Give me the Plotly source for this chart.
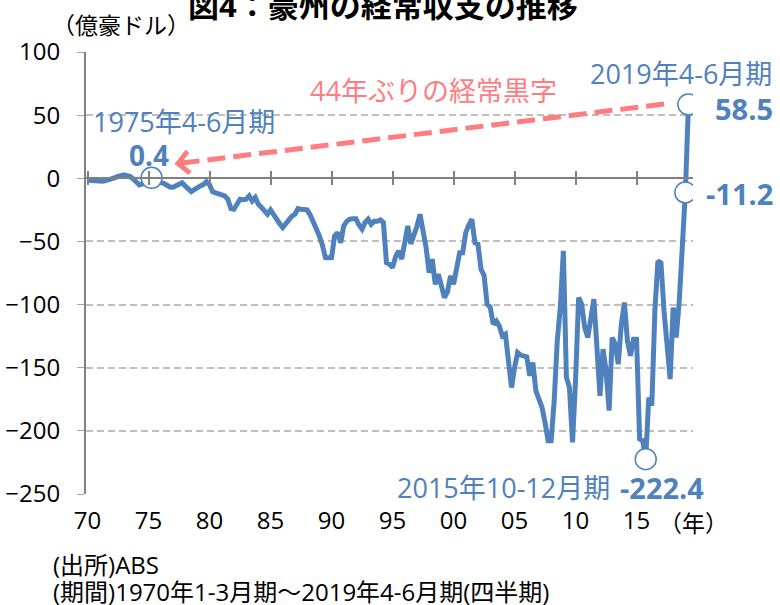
import plotly.graph_objects as go

# 豪州の経常収支（億豪ドル）、1970年1-3月期～2019年4-6月期、四半期
cur_acct = [
    -1.6, -1.8, -2.0, -2.5,        # 1970
    -2.7, -2.3, -1.8, -1.3,        # 1971
    -0.5, 0.5, 1.5, 2.6,           # 1972
    2.8, 2.0, 1.3, -0.5,           # 1973
    -3.0, -5.3, -4.5, -3.0,        # 1974
    -1.5, 0.4, -1.0, -2.5,         # 1975
    -3.5, -4.0, -5.5, -6.9,        # 1976
    -7.0, -6.0, -5.3, -3.5,        # 1977
    -6.0, -8.5, -10.6, -9.0,       # 1978
    -6.9, -6.0, -5.0, -2.7,        # 1979
    -5.0, -10.6, -11.5, -12.0,     # 1980
    -12.7, -14.0, -16.6, -24.0,    # 1981
    -24.5, -20.0, -16.6, -17.0,    # 1982
    -16.6, -14.0, -18.0, -15.3,    # 1983
    -20.6, -23.0, -26.0, -28.5,    # 1984
    -25.0, -29.0, -33.8, -36.0,    # 1985
    -39.0, -36.0, -32.4, -30.0,    # 1986
    -28.5, -24.0, -24.5, -25.0,    # 1987
    -25.0, -29.0, -33.8, -40.0,    # 1988
    -45.6, -53.0, -62.8, -63.0,    # 1989
    -62.8, -45.6, -43.0, -51.0,    # 1990
    -37.7, -34.0, -32.4, -32.0,    # 1991
    -32.0, -37.0, -40.3, -35.0,    # 1992
    -32.4, -36.4, -34.0, -34.0,    # 1993
    -33.0, -35.0, -66.8, -68.0,    # 1994
    -70.7, -62.0, -57.5, -64.0,    # 1995
    -50.0, -37.7, -52.0, -45.6,    # 1996
    -38.0, -28.5, -40.0, -54.9,    # 1997
    -74.7, -64.0, -83.9, -76.0,    # 1998
    -85.0, -94.5, -90.0, -77.3,    # 1999
    -83.9, -70.0, -58.9, -58.9,    # 2000
    -43.0, -37.0, -32.4, -51.0,    # 2001
    -52.0, -72.0, -77.0, -99.7,    # 2002
    -102.0, -115.5, -113.0, -117.0,  # 2003
    -124.8, -123.4, -145.0, -165.7,  # 2004
    -150.0, -138.0, -140.0, -140.6,  # 2005
    -141.4, -156.4, -145.9, -168.3,  # 2006
    -175.0, -181.5, -193.4, -207.8,  # 2007
    -207.8, -176.0, -128.7, -102.4,  # 2008
    -57.5, -157.7, -165.7, -209.2,   # 2009
    -160.0, -94.5, -99.7, -118.2,    # 2010
    -126.1, -110.0, -95.7, -134.0,   # 2011
    -172.2, -135.3, -152.5, -184.0,  # 2012
    -126.1, -131.3, -147.2, -115.5,  # 2013
    -98.4, -128.7, -140.6, -127.4,   # 2014
    -127.4, -206.5, -207.8, -222.4,  # 2015
    -173.6, -180.0, -105.0, -65.4,   # 2016
    -67.0, -105.0, -128.7, -159.0,   # 2017
    -102.4, -126.1, -97.0, -60.0,    # 2018
    -11.2, 58.5,                     # 2019
]
quarter_idx = list(range(len(cur_acct)))

tick_idx = [0, 20, 40, 60, 80, 100, 120, 140, 160, 180]
tick_labels = ["70", "75", "80", "85", "90", "95", "00", "05", "10", "15"]
y_ticks = [100, 50, 0, -50, -100, -150, -200, -250]

# 注目する四半期：1975年4-6月期、2015年10-12月期、2019年1-3月期、2019年4-6月期
hl_idx = [21, 183, 196, 197]
hl_vals = [cur_acct[i] for i in hl_idx]

BLUE = "#4F81BD"
PINK = "#FF7C80"
FONT = "Open Sans, Noto Sans CJK JP"

# プロット領域（ピクセル）
L, R, T, B = 86, 693, 52, 494


def px_x(px):
    return (px - L) / (R - L)


def px_y(py):
    return (B - py) / (B - T)


fig = go.Figure()
fig.add_trace(go.Scatter(x=quarter_idx, y=cur_acct, mode="lines",
                         line=dict(color=BLUE, width=5), hoverinfo="skip"))
fig.add_trace(go.Scatter(x=hl_idx, y=hl_vals, mode="markers",
                         marker=dict(size=21, color="white",
                                     line=dict(color=BLUE, width=1.5)),
                         hoverinfo="skip"))
# ゼロ線上の目盛り用（見えないトレース）
for ax in ["x2", "x3"]:
    fig.add_trace(go.Scatter(x=[quarter_idx[0]], y=[cur_acct[0]], xaxis=ax,
                             mode="markers", marker=dict(opacity=0),
                             hoverinfo="skip"))

zero_pos = (0 - y_ticks[-1]) / (y_ticks[0] - y_ticks[-1])
xrange = [-0.5, len(cur_acct) + 0.5]
common_x = dict(range=xrange, tickvals=tick_idx, showticklabels=False,
                showgrid=False, zeroline=False, showline=True,
                linecolor="#808080", linewidth=2, tickcolor="#808080",
                tickwidth=1.5, ticklen=6, overlaying="x", anchor="free",
                position=zero_pos, automargin=False)

fig.update_layout(
    width=780, height=605,
    margin=dict(l=L, r=780 - R, t=T, b=605 - B, autoexpand=False),
    plot_bgcolor="white", paper_bgcolor="white",
    showlegend=False,
    font=dict(family=FONT, color="black"),
    xaxis=dict(range=xrange, tickvals=tick_idx, ticktext=tick_labels,
               showgrid=False, zeroline=False, showline=False, ticks="",
               tickfont=dict(size=24, color="black"), ticklabelstandoff=10,
               automargin=False),
    xaxis2=dict(common_x, ticks="outside"),
    xaxis3=dict(common_x, ticks="inside"),
    yaxis=dict(range=[y_ticks[-1], y_ticks[0]], tickvals=y_ticks,
               showgrid=True, gridcolor="#BFBFBF", gridwidth=1.5,
               griddash="7px,4px", zeroline=False,
               showline=True, linecolor="#808080", linewidth=2,
               ticks="outside", ticklen=7, tickcolor="#A6A6A6",
               tickfont=dict(size=24, color="black"), ticklabelstandoff=12,
               automargin=False),
)

# 破線の矢印（2019年4-6月期 → 1975年4-6月期）
head_x, head_y = hl_idx[0] + 7.5, hl_vals[0] + 11
tail_x, tail_y = hl_idx[3] - 8, hl_vals[3] + 0.3
fig.add_shape(type="line", x0=tail_x, y0=tail_y, x1=head_x + 1.5, y1=head_y + 0.4,
              line=dict(color=PINK, width=5, dash="18px,8px"))
fig.add_annotation(x=head_x, y=head_y, text="", showarrow=True,
                   ax=14, ay=-1.7, arrowhead=4, arrowsize=0.85,
                   arrowwidth=5, arrowcolor=PINK, standoff=0)

ann = []
# 注目点のラベル
ann.append(dict(x=hl_idx[0], y=hl_vals[0], text="1975年4-6月期", xshift=32, yshift=56,
                font=dict(size=27, color=BLUE)))
ann.append(dict(x=hl_idx[0], y=hl_vals[0], text="<b>0.4</b>", xshift=-3, yshift=23,
                font=dict(size=28, color=BLUE)))
ann.append(dict(x=hl_idx[3], y=hl_vals[3], text="2019年4-6月期", xshift=-7, yshift=31,
                font=dict(size=27, color=BLUE)))
ann.append(dict(x=hl_idx[3], y=hl_vals[3], text="<b>58.5</b>", xanchor="left",
                xshift=25, yshift=-4, font=dict(size=29, color=BLUE)))
ann.append(dict(x=hl_idx[2], y=hl_vals[2], text="<b>-11.2</b>", xanchor="left",
                xshift=19, yshift=-1, font=dict(size=29, color=BLUE)))
ann.append(dict(x=hl_idx[1], y=hl_vals[1], text="2015年10-12月期", xanchor="right",
                xshift=-34, yshift=-28, font=dict(size=27, color=BLUE)))
ann.append(dict(x=hl_idx[1], y=hl_vals[1], text="<b>-222.4</b>", xanchor="left",
                xshift=-28, yshift=-28, font=dict(size=29, color=BLUE)))
for a in ann:
    fig.add_annotation(showarrow=False, **a)

# テキスト類
texts = [
    ("<b>図4：豪州の経常収支の推移</b>", 383, 5, "center", 31, "black"),
    ("（億豪ドル）", 50, 25, "left", 23, "black"),
    ("44年ぶりの経常黒字", 433, 90, "center", 27, PINK),
    ("（年）", 693, 523, "center", 23, "black"),
    ("(出所)ABS", 51, 564, "left", 24, "black"),
    ("(期間)1970年1-3月期～2019年4-6月期(四半期)", 51, 591, "left", 24, "black"),
]
for txt, px, py, anchor, size, color in texts:
    fig.add_annotation(text=txt, xref="paper", yref="paper", x=px_x(px), y=px_y(py),
                       xanchor=anchor, yanchor="middle", showarrow=False,
                       font=dict(size=size, color=color, family=FONT))

# ページ既定の余白を消して図を左上に合わせる
fig.write_html("out.html", config={"displayModeBar": False},
               post_script="document.body.style.margin='0';")
